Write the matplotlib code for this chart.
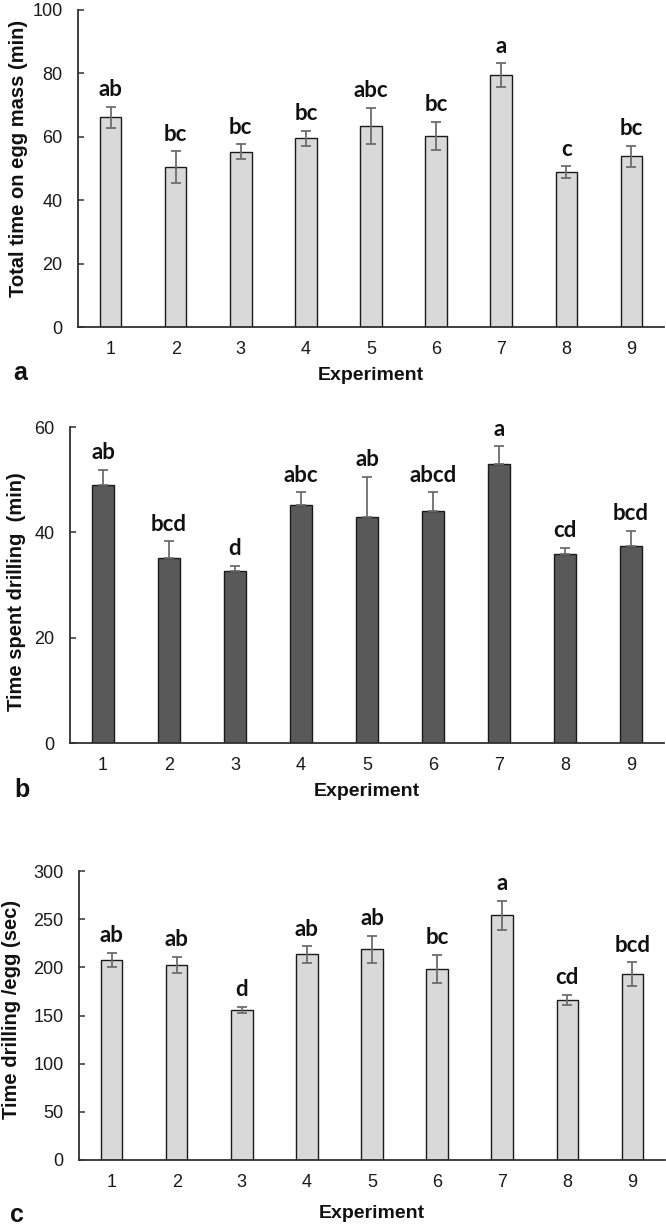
import matplotlib
matplotlib.use("Agg")
import matplotlib.pyplot as plt

experiments = [1, 2, 3, 4, 5, 6, 7, 8, 9]

# a: total time on egg mass (min)
total_mean = [66.1, 50.5, 55.3, 59.5, 63.5, 60.3, 79.5, 48.9, 53.9]
total_err = [3.4, 5.0, 2.4, 2.4, 5.7, 4.4, 3.8, 1.9, 3.3]
total_letters = ["ab", "bc", "bc", "bc", "abc", "bc", "a", "c", "bc"]

# b: time spent drilling (min)
drill_mean = [48.9, 35.1, 32.6, 45.1, 42.9, 44.1, 53.0, 35.8, 37.5]
drill_err = [3.0, 3.2, 1.1, 2.5, 7.7, 3.5, 3.4, 1.3, 2.8]
drill_letters = ["ab", "bcd", "d", "abc", "ab", "abcd", "a", "cd", "bcd"]

# c: time drilling per egg (sec)
egg_mean = [207.6, 202.4, 155.7, 213.5, 218.7, 198.6, 254.0, 166.4, 193.0]
egg_err = [7.6, 8.6, 3.5, 8.6, 14.2, 14.5, 15.2, 5.2, 12.5]
egg_letters = ["ab", "ab", "d", "ab", "ab", "bc", "a", "cd", "bcd"]

W, H = 666, 1225
TICKFONT = ["Liberation Sans", "DejaVu Sans"]
LETTERFONT = ["Lato", "DejaVu Sans"]
AXCOL = "#303030"
ERRCOL = "#6d6d6d"

fig = plt.figure(figsize=(W / 100, H / 100), dpi=100)


def px_axes(left, right, top, bottom):
    return fig.add_axes([left / W, 1 - bottom / H, (right - left) / W, (bottom - top) / H])


def panel(ax, means, errs, letters, ymax, step, color, upper_only=False):
    if upper_only:
        yerr = [[0] * len(errs), errs]
    else:
        yerr = errs
    ax.bar(experiments, means, width=0.33, color=color, edgecolor="#1a1a1a",
           linewidth=1.0, zorder=2)
    ax.errorbar(experiments, means, yerr=yerr, fmt="none", ecolor=ERRCOL,
                elinewidth=1.3, capsize=3.8, capthick=1.3, zorder=3)
    for x, m, e, t in zip(experiments, means, errs, letters):
        ax.annotate(t, (x, m + e), xytext=(0, 7.5), textcoords="offset points",
                    ha="center", va="baseline", fontsize=16, fontweight="bold",
                    family=LETTERFONT, color="#111111")
    ax.set_xlim(0.5, 9.5)
    ax.set_ylim(0, ymax)
    ax.set_yticks(range(0, ymax + 1, step))
    ax.set_xticks(experiments)
    ax.spines[["top", "right"]].set_visible(False)
    for s in ("left", "bottom"):
        ax.spines[s].set_color(AXCOL)
        ax.spines[s].set_linewidth(1.3)
    ax.tick_params(axis="y", direction="in", length=4, width=1.1, color=AXCOL, pad=11)
    ax.tick_params(axis="x", length=0, pad=10)
    for lab in ax.get_xticklabels() + ax.get_yticklabels():
        lab.set_family(TICKFONT)
        lab.set_fontsize(13)
        lab.set_color("#1a1a1a")


axa = px_axes(78, 664, 10, 327)
panel(axa, total_mean, total_err, total_letters, 100, 20, "#d9d9d9")
axb = px_axes(70, 664, 427, 743)
panel(axb, drill_mean, drill_err, drill_letters, 60, 20, "#595959", upper_only=True)
axc = px_axes(79, 665, 871, 1160)
panel(axc, egg_mean, egg_err, egg_letters, 300, 50, "#d9d9d9")

lab_kw = dict(rotation=90, ha="center", va="center", fontsize=14.5, fontweight="bold",
              family=TICKFONT, color="#111111")
fig.text(19 / W, 1 - 158 / H, "Total time on egg mass (min)", **lab_kw)
fig.text(17 / W, 1 - 592 / H, "Time spent drilling  (min)", **lab_kw)
fig.text(12 / W, 1 - 1009 / H, "Time drilling /egg (sec)", **lab_kw)

for x, y in ((371, 375), (367, 792), (372, 1214)):
    fig.text(x / W, 1 - y / H, "Experiment", ha="center", va="center", fontsize=14,
             fontweight="bold", family=TICKFONT, color="#111111")

for t, x, y in (("a", 20, 373), ("b", 22, 790), ("c", 17, 1215)):
    fig.text(x / W, 1 - y / H, t, ha="center", va="center", fontsize=18,
             fontweight="bold", family=TICKFONT, color="#111111")

fig.savefig("out.png", dpi=100, facecolor="white")
